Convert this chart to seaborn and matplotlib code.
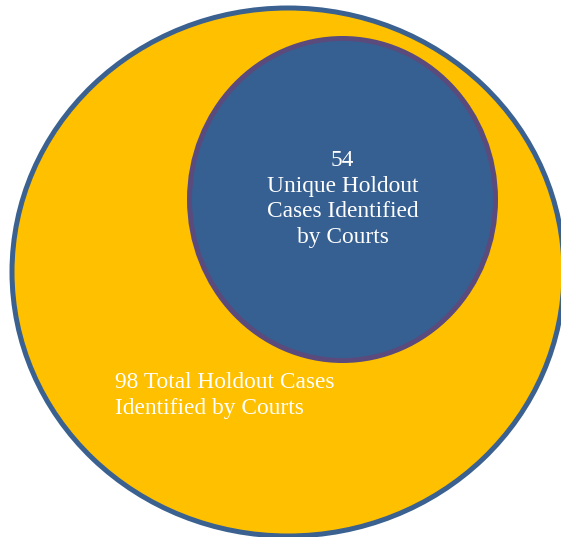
# Venn-style nested circles: holdout cases identified by courts

import seaborn as sns
import matplotlib.pyplot as plt
from matplotlib.patches import Ellipse

# data
counts = [98, 54]
labels = ["Total Holdout Cases\nIdentified by Courts", "Unique Holdout\nCases Identified\nby Courts"]

sns.set_theme(style="white")
plt.rcParams['font.family'] = ['Liberation Serif', 'DejaVu Serif']

fig = plt.figure(figsize=(5.61, 5.37), dpi=100)
ax = fig.add_axes([0, 0, 1, 1])
ax.set_xlim(0, 561)
ax.set_ylim(537, 0)
ax.set_axis_off()

# outer circle (all cases)
outer = Ellipse((288, 272), 552, 528, facecolor='#FFC000', edgecolor='#3A6190', linewidth=3.6)
ax.add_patch(outer)

# inner circle (unique cases)
inner = Ellipse((342.5, 199.5), 306, 322, facecolor='#366092', edgecolor='#5B4A7C', linewidth=3.6)
ax.add_patch(inner)

ax.text(342.5, 199, f"{counts[1]}\n{labels[1]}", color='white', fontsize=16.8,
        ha='center', va='center', linespacing=1.31)
ax.text(115, 395.5, f"{counts[0]} {labels[0]}", color='white', fontsize=16.8,
        ha='left', va='center', linespacing=1.31)

fig.savefig("out.png", dpi=100)
